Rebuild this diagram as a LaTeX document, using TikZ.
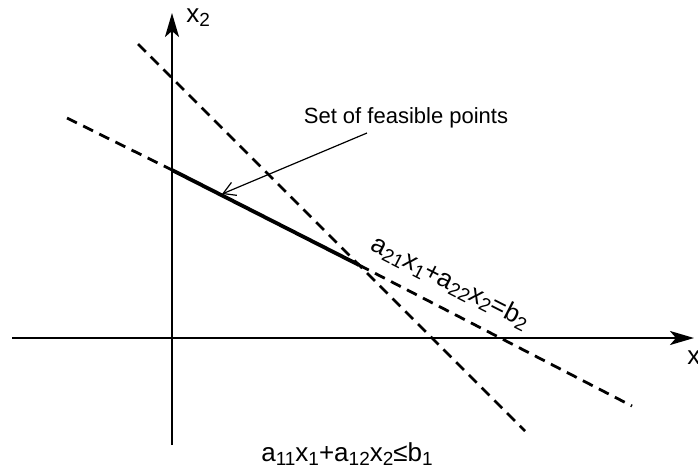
\documentclass[tikz,border=0pt]{standalone}
\usepackage{fontspec}
\setmainfont{Liberation Sans}
\usetikzlibrary{arrows.meta}
\newcommand{\lsub}[1]{\raisebox{-2pt}{\fontsize{9.5}{9.5}\selectfont #1}}

\begin{document}
\begin{tikzpicture}[x=0.5pt, y=-0.5pt, >={Stealth[length=12pt, width=7pt, inset=3pt]},
  axis/.style={line width=1.2pt, ->},
  bound/.style={line width=1.4pt, dash pattern=on 5.5pt off 3.5pt},
  feas/.style={line width=1.9pt},
  pointer/.style={line width=0.6pt, -{Straight Barb[length=6pt, width=7pt]}},
  eqn/.style={font=\fontsize{13}{14}\selectfont, inner sep=0pt},
  lbl/.style={font=\fontsize{11}{13}\selectfont, inner sep=0pt}]
\useasboundingbox (0,0) rectangle (698,468);
% axes
\coordinate (xl) at (12,338);
\coordinate (xr) at (694,338);
\coordinate (yb) at (172,445);
\coordinate (yt) at (172,13);
\draw[axis] (xl) -- (xr);
\draw[axis] (yb) -- (yt);
\node[eqn, anchor=base west] (xlab) at (687,364) {x};
\node[eqn, anchor=base west] (ylab) at (186,22) {x\lsub{2}};
% first constraint
\coordinate (c1a) at (138,44);
\coordinate (c1b) at (525,431);
\draw[bound] (c1a) -- (c1b);
\node[eqn, anchor=base] (c1lab) at (347,461) {a\lsub{11}x\lsub{1}+a\lsub{12}x\lsub{2}≤b\lsub{1}};
% second constraint and feasible set
\coordinate (c2a) at (67,118);
\coordinate (c2y) at (172,170);
\coordinate (c2p) at (359,265);
\coordinate (c2b) at (632,406);
\draw[bound] (c2a) -- (c2y);
\draw[bound] (c2p) -- (c2b);
\draw[feas] (c2y) -- (c2p);
\node[eqn, anchor=base, rotate=-27] (c2lab) at (447,289) {a\lsub{21}x\lsub{1}+a\lsub{22}x\lsub{2}=b\lsub{2}};
% label for the feasible set
\node[lbl, anchor=base] (setlab) at (406,123) {Set of feasible points};
\coordinate (tip) at (222,194);
\draw[pointer] (367,133) -- (tip);
\end{tikzpicture}
\end{document}
